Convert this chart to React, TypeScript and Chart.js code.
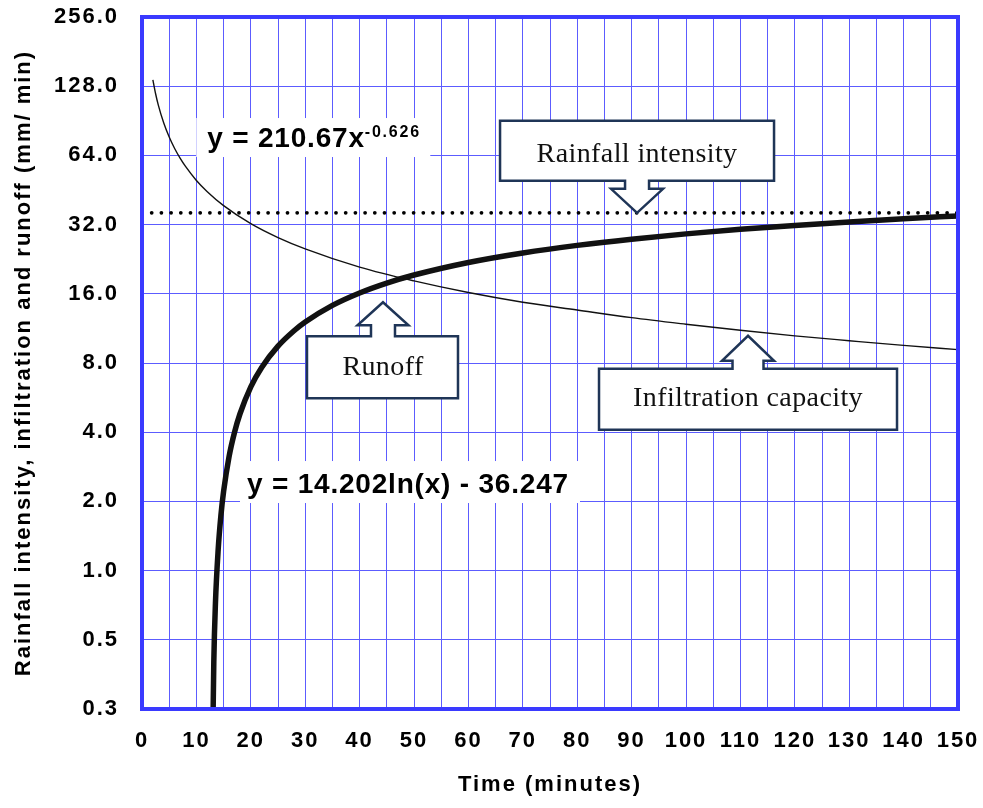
import React, { useEffect, useRef } from 'react';
import { Chart, registerables } from 'chart.js';

Chart.register(...registerables);

// ---- data ----
const yTicks = [0.25, 0.5, 1, 2, 4, 8, 16, 32, 64, 128, 256];

const infilX = [2, 2.5, 3, 4, 5, 6, 7, 8, 10, 12, 15, 20, 25, 30, 40, 50, 60, 70, 80, 90, 100, 110, 120, 130, 140, 150];
const infilY = [136.5, 118.7, 105.9, 88.5, 76.9, 68.6, 62.3, 57.3, 49.8, 44.5, 38.7, 32.3, 28.1, 25.1, 20.9, 18.2, 16.2, 14.7, 13.6, 12.6, 11.8, 11.1, 10.5, 10.0, 9.54, 9.15];

const runoffX = [13, 13.2, 13.5, 14, 14.5, 15, 16, 17, 18, 20, 22, 25, 28, 30, 35, 40, 45, 50, 60, 70, 80, 90, 100, 110, 120, 130, 140, 150];
const runoffY = [0.18, 0.4, 0.72, 1.23, 1.73, 2.21, 3.13, 3.99, 4.8, 6.3, 7.65, 9.47, 11.08, 12.06, 14.25, 16.14, 17.82, 19.31, 21.9, 24.09, 25.99, 27.66, 29.16, 30.51, 31.75, 32.88, 33.93, 34.91];

const rainX = [0, 150];
const rainY = [36, 36];

// annotation anchors (data coordinates)
const eq1 = { x: 12, y: 69.6, main: 'y = 210.67x', sup: '-0.626' };
const eq2 = { x: 19.3, y: 2.175, text: 'y = 14.202ln(x) - 36.247' };
const calloutRain = { x: 91, y: 36, text: 'Rainfall intensity' };
const calloutRunoff = { x: 44.3, y: 14.7, text: 'Runoff' };
const calloutInfil = { x: 111.4, y: 10.5, text: 'Infiltration capacity' };

const SANS = '"Liberation Sans", Arial, sans-serif';
const SERIF = '"Liberation Serif", "Times New Roman", serif';
const GRID = '#5c5cff';
const BORDER = '#3a3aff';
const NAVY = '#1f3557';

function calloutPath(ctx: CanvasRenderingContext2D, tx: number, ty: number, dir: 'up' | 'down',
  l: number, r: number, near: number, far: number, stemHalf: number, headHalf: number, headBase: number) {
  const s = dir === 'down' ? -1 : 1;
  const bNear = ty + s * near;
  const bFar = ty + s * far;
  const hb = ty + s * headBase;
  ctx.beginPath();
  ctx.moveTo(tx - l, bFar);
  ctx.lineTo(tx + r, bFar);
  ctx.lineTo(tx + r, bNear);
  ctx.lineTo(tx + stemHalf, bNear);
  ctx.lineTo(tx + stemHalf, hb);
  ctx.lineTo(tx + headHalf, hb);
  ctx.lineTo(tx, ty);
  ctx.lineTo(tx - headHalf, hb);
  ctx.lineTo(tx - stemHalf, hb);
  ctx.lineTo(tx - stemHalf, bNear);
  ctx.lineTo(tx - l, bNear);
  ctx.closePath();
}

const annotPlugin = {
  id: 'annot',
  beforeDraw(chart: any) {
    chart.ctx.letterSpacing = '2px';
  },
  beforeDatasetsDraw(chart: any) {
    chart.ctx.letterSpacing = '0px';
  },
  afterDatasetsDraw(chart: any) {
    const { ctx, chartArea } = chart;
    ctx.save();
    ctx.strokeStyle = BORDER;
    ctx.lineWidth = 4;
    ctx.strokeRect(chartArea.left, chartArea.top, chartArea.right - chartArea.left, chartArea.bottom - chartArea.top);
    ctx.restore();
  },
  afterDraw(chart: any) {
    const ctx: CanvasRenderingContext2D = chart.ctx;
    const xs = chart.scales.x;
    const ys = chart.scales.y;
    const px = (v: number) => xs.getPixelForValue(v);
    const py = (v: number) => ys.getPixelForValue(v);
    ctx.save();
    (ctx as any).letterSpacing = '0.8px';

    // equation 1
    {
      const x = px(eq1.x), y = py(eq1.y);
      ctx.fillStyle = '#fff';
      ctx.fillRect(x - 11, y - 29, 234, 39);
      ctx.fillStyle = '#000';
      ctx.textAlign = 'left';
      ctx.textBaseline = 'alphabetic';
      ctx.font = `bold 28px ${SANS}`;
      ctx.fillText(eq1.main, x, y);
      const w = ctx.measureText(eq1.main).width;
      ctx.font = `bold 16px ${SANS}`;
      (ctx as any).letterSpacing = '1.8px';
      ctx.fillText(eq1.sup, x + w, y - 10);
      (ctx as any).letterSpacing = '0.8px';
    }
    // equation 2
    {
      const x = px(eq2.x), y = py(eq2.y);
      ctx.fillStyle = '#fff';
      ctx.fillRect(x - 7, y - 32, 340, 42);
      ctx.fillStyle = '#000';
      ctx.font = `bold 28px ${SANS}`;
      ctx.textAlign = 'left';
      ctx.fillText(eq2.text, x, y);
    }

    (ctx as any).letterSpacing = '0.4px';
    ctx.lineWidth = 2.5;
    ctx.lineJoin = 'miter';
    ctx.strokeStyle = NAVY;
    ctx.font = `28px ${SERIF}`;
    ctx.textAlign = 'center';
    ctx.textBaseline = 'alphabetic';

    // rainfall callout (arrow down)
    {
      const tx = px(calloutRain.x), ty = py(calloutRain.y);
      calloutPath(ctx, tx, ty, 'down', 137, 137, 32, 92, 12, 26, 24);
      ctx.fillStyle = '#fff';
      ctx.fill();
      ctx.stroke();
      ctx.fillStyle = '#111';
      ctx.fillText(calloutRain.text, tx, ty - 51);
    }
    // runoff callout (arrow up)
    {
      const tx = px(calloutRunoff.x), ty = py(calloutRunoff.y);
      calloutPath(ctx, tx, ty, 'up', 76, 75, 34, 96, 12, 25.5, 23);
      ctx.fillStyle = '#fff';
      ctx.fill();
      ctx.stroke();
      ctx.fillStyle = '#111';
      ctx.fillText(calloutRunoff.text, tx, ty + 73);
    }
    // infiltration callout (arrow up)
    {
      const tx = px(calloutInfil.x), ty = py(calloutInfil.y);
      calloutPath(ctx, tx, ty, 'up', 149, 149, 33, 94, 15.5, 26, 25);
      ctx.fillStyle = '#fff';
      ctx.fill();
      ctx.stroke();
      ctx.fillStyle = '#111';
      ctx.fillText(calloutInfil.text, tx, ty + 70);
    }
    ctx.restore();
  },
};

export default function App() {
  const ref = useRef<HTMLCanvasElement>(null);
  useEffect(() => {
    const tickFont = { family: SANS, size: 22, weight: 'bold' as const };
    const chart = new Chart(ref.current!, {
      type: 'line',
      data: {
        datasets: [
          {
            label: 'Rainfall intensity',
            data: rainX.map((x, i) => ({ x, y: rainY[i] })),
            borderColor: '#000',
            borderWidth: 3.8,
            borderDash: [0, 9.7],
            borderCapStyle: 'round',
            pointRadius: 0,
            fill: false,
          },
          {
            label: 'Infiltration capacity',
            data: infilX.map((x, i) => ({ x, y: infilY[i] })),
            borderColor: '#111',
            borderWidth: 1.4,
            pointRadius: 0,
            fill: false,
            cubicInterpolationMode: 'monotone',
          },
          {
            label: 'Runoff',
            data: runoffX.map((x, i) => ({ x, y: runoffY[i] })),
            borderColor: '#111',
            borderWidth: 5.5,
            pointRadius: 0,
            fill: false,
            cubicInterpolationMode: 'monotone',
          },
        ],
      },
      options: {
        responsive: true,
        maintainAspectRatio: false,
        animation: false,
        layout: { padding: { top: 17, right: 25, left: 0, bottom: 0 } },
        plugins: { legend: { display: false }, tooltip: { enabled: false }, title: { display: false } },
        scales: {
          x: {
            type: 'linear',
            min: 0,
            max: 150,
            afterFit: (s: any) => { s.height = 99; s.paddingLeft = 0; s.paddingRight = 0; },
            ticks: {
              stepSize: 5,
              autoSkip: false,
              maxRotation: 0,
              padding: 19,
              color: '#000',
              font: tickFont,
              callback: (v: any) => (Number(v) % 10 === 0 ? String(v) : ''),
            },
            grid: { color: GRID, lineWidth: 1, drawTicks: false },
            border: { color: BORDER, width: 4 },
            title: {
              display: true,
              text: 'Time (minutes)',
              color: '#000',
              font: tickFont,
              padding: { top: 0, bottom: 10 },
            },
          },
          y: {
            type: 'logarithmic',
            min: 0.25,
            max: 256,
            afterFit: (s: any) => { s.width = 142; s.paddingTop = 0; s.paddingBottom = 0; },
            afterBuildTicks: (s: any) => { s.ticks = yTicks.map((v) => ({ value: v })); },
            ticks: {
              autoSkip: false,
              padding: 23,
              color: '#000',
              font: tickFont,
              callback: (v: any) => Number(v).toFixed(1),
            },
            grid: { color: GRID, lineWidth: 1, drawTicks: false },
            border: { color: BORDER, width: 4 },
            title: {
              display: true,
              text: 'Rainfall intensity, infiltration and runoff (mm/ min)',
              color: '#000',
              font: tickFont,
              padding: { top: 11, bottom: 0 },
            },
          },
        },
      },
      plugins: [annotPlugin],
    } as any);
    return () => chart.destroy();
  }, []);
  return (
    <div style={{ position: 'absolute', left: 0, top: 0, width: 983, height: 808 }}>
      <canvas ref={ref} />
    </div>
  );
}
